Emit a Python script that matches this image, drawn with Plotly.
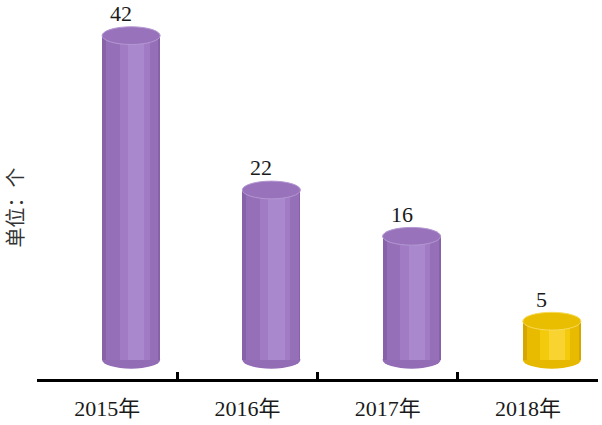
import plotly.graph_objects as go

# ---- data ----
categories = ["2015年", "2016年", "2017年", "2018年"]
values = [42, 22, 16, 5]
value_labels = ["42", "22", "16", "5"]
axis_title = "单位：个"

# ---- styles ----
purple_bands = ["#8762A9", "#966FB9", "#A17CC5", "#AA88CD"]
yellow_bands = ["#D6A500", "#E8BB00", "#F3CA0C", "#F9D430"]
bar_band_sets = [purple_bands, purple_bands, purple_bands, yellow_bands]
top_fill = ["#9873BB", "#9873BB", "#9873BB", "#E9BE00"]
top_line = ["#B497D2", "#B497D2", "#B497D2", "#F8DA5A"]
bottom_fill = ["#936CB6", "#936CB6", "#936CB6", "#E6B800"]

FONT = "Liberation Serif, Times New Roman, Noto Sans CJK SC, serif"

bar_center = 0.171   # perspective shift of the cylinder from category centre
label_center = 0.10  # value labels sit slightly left of the cylinder centre
bar_w = 0.414        # cylinder width in category units
ell_h = 1.15         # ellipse half height in data units
# bands: (start fraction, width fraction)
bands = [(0.0, 1.0), (0.07, 0.9), (0.3, 0.52), (0.45, 0.28)]

fig = go.Figure()
start = bar_center - bar_w / 2
for b, (fs, fw) in enumerate(bands):
    fig.add_trace(go.Bar(
        x=categories, y=values,
        width=bar_w * fw,
        offset=start + bar_w * fs,
        marker=dict(color=[s[b] for s in bar_band_sets], line=dict(width=0)),
        hoverinfo="skip", showlegend=False,
    ))

shapes = []
annotations = []
for i, v in enumerate(values):
    cx = i + bar_center
    shapes.append(dict(type="circle", xref="x", yref="y", layer="below",
                       x0=cx - bar_w / 2, x1=cx + bar_w / 2, y0=-ell_h, y1=ell_h,
                       fillcolor=bottom_fill[i], line=dict(width=0)))
    shapes.append(dict(type="circle", xref="x", yref="y", layer="above",
                       x0=cx - bar_w / 2, x1=cx + bar_w / 2, y0=v - ell_h, y1=v + ell_h,
                       fillcolor=top_fill[i], line=dict(width=1, color=top_line[i])))
    annotations.append(dict(x=i + label_center, y=v, xref="x", yref="y", text=value_labels[i],
                            showarrow=False, yanchor="middle", yshift=22,
                            font=dict(family=FONT, size=22, color="#1a1a1a")))

annotations.append(dict(x=0, y=0.46, xref="paper", yref="paper", text=axis_title,
                        textangle=-90, showarrow=False, xanchor="right", yanchor="middle",
                        xshift=-6, font=dict(family="Noto Sans CJK SC, sans-serif", size=20,
                                             color="#333333")))

fig.update_layout(
    width=602, height=425,
    margin=dict(l=37, r=4, t=5, b=42),
    paper_bgcolor="white", plot_bgcolor="white",
    barmode="overlay", bargap=0,
    shapes=shapes, annotations=annotations,
    xaxis=dict(type="category", range=[-0.5, 3.5], showline=True, linecolor="black",
               linewidth=3, ticks="inside", tickson="boundaries", ticklen=7,
               tickwidth=3, tickcolor="black", showgrid=False, zeroline=False,
               ticklabelstandoff=8,
               tickfont=dict(family=FONT, size=22, color="#1a1a1a")),
    yaxis=dict(range=[-2.49, 45.97], visible=False, showgrid=False, zeroline=False),
)

fig.write_html("out.html", config={"displayModeBar": False},
               post_script="document.body.style.margin='0';")
